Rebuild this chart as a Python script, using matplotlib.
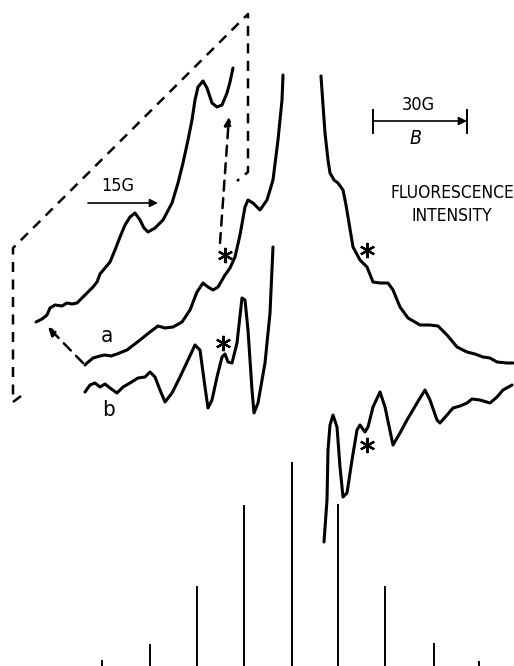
import numpy as np
import matplotlib
matplotlib.use('Agg')
import matplotlib.pyplot as plt

# ── Traced data (field position, signal in figure units; y grows downward) ──
# curve a: fluorescence intensity, low-field branch
a_left_x = [85, 87, 93, 100, 105, 111, 117, 127, 140, 150, 158, 165, 173, 182,
            190, 197, 203, 208, 213, 218, 225, 230, 235, 240, 245, 248, 253,
            260, 267, 273, 278, 282, 283]
a_left_y = [365, 363, 358, 356, 355, 356, 354, 350, 340, 332, 326, 328, 327, 322,
            310, 292, 283, 287, 290, 287, 275, 268, 257, 235, 207, 200, 203,
            210, 200, 180, 140, 100, 75]
# curve a: high-field branch
a_right_x = [321, 323, 325, 328, 330, 334, 338, 343, 346, 348, 353, 360, 367,
             373, 380, 388, 393, 400, 408, 420, 430, 438, 447, 457, 467, 475,
             483, 490, 497, 507, 513]
a_right_y = [76, 105, 133, 160, 173, 180, 183, 190, 205, 217, 247, 260, 267,
             282, 283, 283, 290, 307, 318, 325, 325, 326, 335, 347, 352, 354,
             357, 358, 362, 363, 363]

# curve b: derivative signal, low-field branch
b_left_x = [85, 90, 95, 100, 105, 110, 117, 123, 130, 138, 145, 150, 155, 160,
            165, 172, 180, 188, 195, 200, 205, 208, 212, 217, 222, 225, 228,
            232, 237, 242, 245, 248, 252, 254, 258, 265, 270, 273]
b_left_y = [392, 385, 383, 387, 384, 388, 393, 387, 383, 378, 377, 372, 377, 390,
            402, 393, 377, 360, 345, 350, 387, 408, 400, 377, 357, 354, 362,
            363, 343, 298, 300, 330, 390, 413, 403, 363, 313, 247]
# curve b: high-field branch
b_right_x = [324, 327, 328, 330, 333, 337, 340, 343, 347, 352, 357, 360, 365,
             368, 373, 380, 385, 393, 400, 407, 417, 425, 430, 437, 440, 447,
             453, 460, 467, 472, 480, 490, 497, 503, 512]
b_right_y = [542, 500, 450, 425, 415, 427, 467, 497, 493, 460, 430, 425, 432,
             427, 407, 392, 407, 445, 433, 420, 403, 390, 400, 420, 423, 415,
             408, 406, 403, 399, 400, 403, 397, 390, 385]

# expanded section of curve a (inset)
inset_x = [36, 42, 47, 50, 55, 62, 67, 72, 77, 82, 88, 93, 97, 100, 105, 110,
           115, 120, 125, 130, 135, 140, 144, 148, 155, 163, 172, 178, 183,
           188, 192, 195, 198, 203, 207, 212, 217, 222, 227, 230, 233]
inset_y = [322, 319, 315, 308, 305, 306, 303, 304, 303, 298, 292, 287, 282, 274,
           268, 262, 250, 237, 225, 217, 213, 220, 228, 232, 228, 220, 203, 183,
           163, 140, 120, 100, 87, 81, 88, 103, 107, 105, 93, 82, 68]

# stick spectrum (line positions and heights)
stick_pos = [102, 150, 197, 244, 292, 338, 385, 434, 479]
stick_top = [660, 644, 586, 505, 462, 504, 586, 643, 661]
stick_base = 666

# asterisk markers (x, y)
star_x = [225, 367, 223, 367]
star_y = [255, 250, 343, 445]

# ── Figure ───────────────────────────────────────────────────────────────
fig = plt.figure(figsize=(5.14, 6.66), dpi=100)
ax = fig.add_axes([0, 0, 1, 1])
ax.set_xlim(0, 514)
ax.set_ylim(666, 0)
ax.axis('off')

lw = 2.2
for xs, ys in [(a_left_x, a_left_y), (a_right_x, a_right_y),
               (b_left_x, b_left_y), (b_right_x, b_right_y),
               (inset_x, inset_y)]:
    ax.plot(xs, ys, color='black', lw=lw, solid_joinstyle='round',
            solid_capstyle='round')

ax.vlines(stick_pos, stick_top, stick_base, color='black', lw=1.4)

# dashed frame around the expanded region
dash = dict(color='black', lw=1.8, ls=(0, (4, 3)))
ax.plot([21, 13, 13, 248, 248, 237], [396, 402, 248, 14, 172, 181], **dash)

# dashed arrows linking the expansion
ax.annotate('', xy=(48, 327), xytext=(83, 363),
            arrowprops=dict(arrowstyle='-|>', color='black', lw=1.8,
                            ls=(0, (4, 3)), mutation_scale=12, shrinkA=0, shrinkB=0))
ax.annotate('', xy=(229, 117), xytext=(220, 243),
            arrowprops=dict(arrowstyle='-|>', color='black', lw=1.8,
                            ls=(0, (4, 3)), mutation_scale=12, shrinkA=0, shrinkB=0))

# 15 G scale arrow
ax.annotate('', xy=(158, 203), xytext=(88, 203),
            arrowprops=dict(arrowstyle='-|>', color='black', lw=1.2,
                            mutation_scale=12, shrinkA=0, shrinkB=0))
txt = dict(family=['DejaVu Sans'], stretch='condensed', color='black')
ax.text(118, 186, '15G', fontsize=13, ha='center', va='center', **txt)

# 30 G field bar
ax.annotate('', xy=(467, 121), xytext=(373, 121),
            arrowprops=dict(arrowstyle='-|>', color='black', lw=1.2,
                            mutation_scale=12, shrinkA=0, shrinkB=0))
ax.vlines([373, 467], 109, 134, color='black', lw=1.4)
ax.text(418, 105, '30G', fontsize=13, ha='center', va='center', **txt)
ax.text(416, 138, 'B', fontsize=14, ha='center', va='center', style='italic', **txt)

ax.text(452, 193, 'FLUORESCENCE', fontsize=12.5, ha='center', va='center', **txt)
ax.text(452, 216, 'INTENSITY', fontsize=12.5, ha='center', va='center', **txt)

# curve labels
ax.text(107, 336, 'a', fontsize=16, ha='center', va='center', **txt)
ax.text(108, 410, 'b', fontsize=16, ha='center', va='center', **txt)

# asterisks flagging the marked features
ax.plot(star_x, star_y, ls='none', marker=(6, 2, 0), ms=11, mew=1.6,
        color='black')

fig.savefig('out.png', dpi=100, facecolor='white')
plt.close(fig)
